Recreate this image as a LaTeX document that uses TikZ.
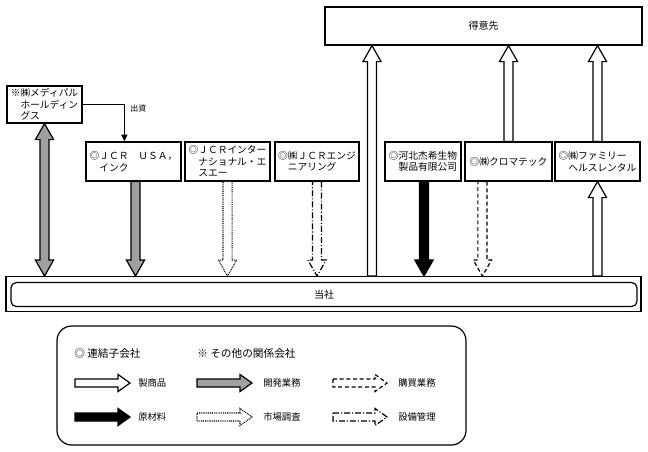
\documentclass[tikz,border=0pt]{standalone}
\usepackage{fontspec}
\setmainfont{Noto Sans CJK JP}
\usetikzlibrary{calc,arrows.meta}
\definecolor{arrgrey}{RGB}{160,160,160}
\tikzset{
  box/.style={draw, line width=0.9pt, fill=white, inner xsep=2pt, inner ysep=0pt, align=left,
    font=\fontsize{7.3pt}{8.6pt}\selectfont, minimum height=29.25pt},
  bigbox/.style={draw, line width=0.9pt, font=\fontsize{7.5pt}{9pt}\selectfont},
  fwhite/.style={draw, line width=0.9pt, fill=white},
  fgrey/.style={draw, line width=0.9pt, fill=arrgrey},
  fblack/.style={draw, line width=0.9pt, fill=black},
  fdotted/.style={draw, line width=0.8pt, dash pattern=on 0.7pt off 0.7pt, fill=white},
  fdashed/.style={draw, line width=0.9pt, dash pattern=on 3pt off 2pt},
  fdashdot/.style={draw, line width=0.9pt, dash pattern=on 4.5pt off 1.5pt on 0.8pt off 1.5pt},
  lgtext/.style={font=\fontsize{7pt}{8pt}\selectfont, anchor=west, inner sep=0pt},
  lghead/.style={font=\fontsize{8pt}{9pt}\selectfont, anchor=west, inner sep=0pt},
  conn/.style={line width=0.8pt, -{Triangle[length=5pt,width=4.5pt]}},
}
\newcommand{\fatarr}[3][]{%
  \coordinate (faA) at (#2); \coordinate (faB) at (#3);
  \coordinate (faH) at ($(faB)!\arrhl!(faA)$);
  \path[#1] ($(faA)!\arrsw!90:(faB)$) -- ($(faH)!\arrsw!90:(faB)$) -- ($(faH)!\arrhw!90:(faB)$)
    -- (faB) -- ($(faH)!\arrhw!-90:(faB)$) -- ($(faH)!\arrsw!-90:(faB)$)
    -- ($(faA)!\arrsw!-90:(faB)$) -- cycle;}
\newcommand{\dblarr}[3][]{%
  \coordinate (faA) at (#2); \coordinate (faB) at (#3);
  \coordinate (faHA) at ($(faA)!\arrhl!(faB)$);
  \coordinate (faHB) at ($(faB)!\arrhl!(faA)$);
  \path[#1] (faA) -- ($(faHA)!\arrhw!90:(faB)$) -- ($(faHA)!\arrsw!90:(faB)$)
    -- ($(faHB)!\arrsw!-90:(faA)$) -- ($(faHB)!\arrhw!-90:(faA)$) -- (faB)
    -- ($(faHB)!\arrhw!90:(faA)$) -- ($(faHB)!\arrsw!90:(faA)$)
    -- ($(faHA)!\arrsw!-90:(faB)$) -- ($(faHA)!\arrhw!-90:(faB)$) -- cycle;}
\begin{document}
\begin{tikzpicture}[x=0.75pt, y=-0.75pt]
\useasboundingbox (0,0) rectangle (648,451);

% top customer box
\node[bigbox, minimum width=237.75pt, minimum height=28.5pt] (tokui) at (483.5,26) {得意先};

% company boxes
\node[box, minimum width=56.25pt, minimum height=27.75pt] (medipal) at (44.5,104.5) {※㈱メディパル\\　ホールディン\\　グス};
\node[box, minimum width=71.25pt] (usa) at (133.5,161.5) {◎ＪＣＲ　ＵＳＡ，\\　インク};
\node[box, minimum width=63.75pt] (intl) at (227.5,161.5) {◎ＪＣＲインター\\　ナショナル・エ\\　スエー};
\node[box, minimum width=63pt] (eng) at (317,161.5) {◎㈱ＪＣＲエンジ\\　ニアリング};
\node[box, minimum width=57pt] (hebei) at (423,161.5) {◎河北杰希生物\\　製品有限公司};
\node[box, minimum width=65.25pt] (chroma) at (508.5,161.5) {◎㈱クロマテック};
\node[box, minimum width=63.75pt] (family) at (597.5,161.5) {◎㈱ファミリー\\　ヘルスレンタル};

% own company
\node[bigbox, minimum width=476.25pt, minimum height=26pt] (tosha) at (323.5,294) {};
\node[bigbox, rounded corners=4pt, minimum width=469.5pt, minimum height=18pt] (toshain) at (324,294.5) {当社};

% investment connector
\draw[conn] (medipal.east) -| ($(usa.north west)+(39,0)$);
\node[font=\fontsize{6pt}{7pt}\selectfont, anchor=west, inner sep=0pt] (shusshi) at (130,108) {出資};

% fat arrows
\def\arrsw{3.4pt}\def\arrhw{6.8pt}\def\arrhl{12pt}
\dblarr[fgrey]{medipal.south}{medipal.south |- tosha.north}
\coordinate (usaS) at ($(usa.south)+(2,0)$);
\fatarr[fgrey]{usaS}{usaS |- tosha.north}
\fatarr[fdotted]{intl.south}{intl.south |- tosha.north}
\fatarr[fdashdot]{eng.south}{eng.south |- tosha.north}
\coordinate (mid) at ($(eng.east)!.5!(hebei.west)$);
\fatarr[fwhite]{mid |- tosha.north}{mid |- tokui.south}
\coordinate (hbS) at ($(hebei.south)+(1,0)$);
\fatarr[fblack]{hbS}{hbS |- tosha.north}
\coordinate (chS) at ($(chroma.south west)+(18,0)$);
\fatarr[fdashed]{chS}{chS |- tosha.north}
\fatarr[fwhite]{chroma.north}{chroma.north |- tokui.south}
\fatarr[fwhite]{family.north}{family.north |- tokui.south}
\fatarr[fwhite]{family.south |- tosha.north}{family.south}

% legend
\node[draw, line width=0.9pt, rounded corners=11pt, minimum width=306.75pt, minimum height=89.25pt] (legend) at (261.5,385.5) {};
\node[lghead] (lgA) at (74,353) {◎ 連結子会社};
\node[lghead] (lgB) at (197,353) {※ その他の関係会社};
\def\arrsw{3pt}\def\arrhw{6.4pt}\def\arrhl{9pt}
\coordinate (l1a) at (75,383); \coordinate (l1b) at (130,383);
\fatarr[fwhite]{l1a}{l1b}
\node[lgtext] (t1) at (138,383) {製商品};
\coordinate (l2a) at (197,383); \coordinate (l2b) at (252,383);
\fatarr[fgrey]{l2a}{l2b}
\node[lgtext] (t2) at (263,383) {開発業務};
\coordinate (l3a) at (333,383); \coordinate (l3b) at (387,383);
\fatarr[fdashed]{l3a}{l3b}
\node[lgtext] (t3) at (398,383) {購買業務};
\coordinate (l4a) at (75,417); \coordinate (l4b) at (130,417);
\fatarr[fblack]{l4a}{l4b}
\node[lgtext] (t4) at (138,417) {原材料};
\coordinate (l5a) at (197,417); \coordinate (l5b) at (252,417);
\fatarr[fdotted]{l5a}{l5b}
\node[lgtext] (t5) at (263,417) {市場調査};
\coordinate (l6a) at (333,417); \coordinate (l6b) at (387,417);
\fatarr[fdashdot]{l6a}{l6b}
\node[lgtext] (t6) at (398,417) {設備管理};
\end{tikzpicture}
\end{document}
